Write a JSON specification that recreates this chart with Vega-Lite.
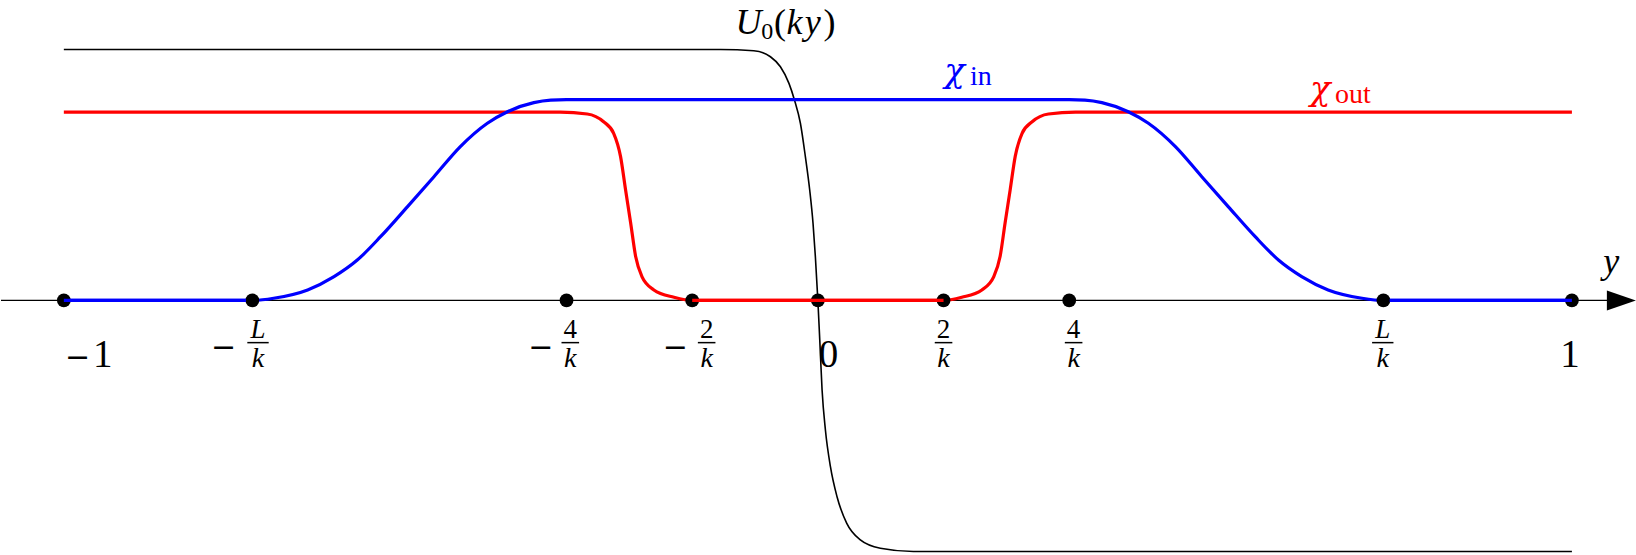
{
  "$schema": "https://vega.github.io/schema/vega-lite/v6.json",
  "width": 1636,
  "height": 555,
  "autosize": {"type": "fit", "contains": "padding"},
  "padding": 0,
  "background": "white",
  "config": {"view": {"stroke": null}},
  "datasets": {
    "curves": [
      {"s": "U0", "x": -12, "y": 1}, {"s": "U0", "x": -1.55, "y": 1.0}, {"s": "U0", "x": -1.02, "y": 0.995},
      {"s": "U0", "x": -0.755, "y": 0.971}, {"s": "U0", "x": -0.596, "y": 0.931}, {"s": "U0", "x": -0.46, "y": 0.865},
      {"s": "U0", "x": -0.374, "y": 0.8}, {"s": "U0", "x": -0.278, "y": 0.706}, {"s": "U0", "x": -0.199, "y": 0.573},
      {"s": "U0", "x": -0.13, "y": 0.44}, {"s": "U0", "x": -0.077, "y": 0.307}, {"s": "U0", "x": -0.04, "y": 0.175},
      {"s": "U0", "x": 0, "y": 0}, {"s": "U0", "x": 0.03, "y": -0.157}, {"s": "U0", "x": 0.067, "y": -0.357},
      {"s": "U0", "x": 0.12, "y": -0.516}, {"s": "U0", "x": 0.2, "y": -0.662}, {"s": "U0", "x": 0.305, "y": -0.782},
      {"s": "U0", "x": 0.46, "y": -0.888}, {"s": "U0", "x": 0.676, "y": -0.954}, {"s": "U0", "x": 0.994, "y": -0.987},
      {"s": "U0", "x": 1.52, "y": -1.0}, {"s": "U0", "x": 12, "y": -1.0},

      {"s": "in", "x": -12, "y": 0}, {"s": "in", "x": -9, "y": 0}, {"s": "in", "x": -8.66, "y": 0.009},
      {"s": "in", "x": -8.12, "y": 0.042}, {"s": "in", "x": -7.7, "y": 0.095}, {"s": "in", "x": -7.33, "y": 0.161},
      {"s": "in", "x": -6.96, "y": 0.254}, {"s": "in", "x": -6.53, "y": 0.374}, {"s": "in", "x": -6.11, "y": 0.493},
      {"s": "in", "x": -5.69, "y": 0.613}, {"s": "in", "x": -5.26, "y": 0.706}, {"s": "in", "x": -4.94, "y": 0.752},
      {"s": "in", "x": -4.52, "y": 0.788}, {"s": "in", "x": -4.25, "y": 0.798}, {"s": "in", "x": -4.0, "y": 0.8},
      {"s": "in", "x": 4.0, "y": 0.8}, {"s": "in", "x": 4.25, "y": 0.798}, {"s": "in", "x": 4.52, "y": 0.788},
      {"s": "in", "x": 4.94, "y": 0.752}, {"s": "in", "x": 5.26, "y": 0.706}, {"s": "in", "x": 5.69, "y": 0.613},
      {"s": "in", "x": 6.11, "y": 0.493}, {"s": "in", "x": 6.53, "y": 0.374}, {"s": "in", "x": 6.96, "y": 0.254},
      {"s": "in", "x": 7.33, "y": 0.161}, {"s": "in", "x": 7.7, "y": 0.095}, {"s": "in", "x": 8.12, "y": 0.042},
      {"s": "in", "x": 8.66, "y": 0.009}, {"s": "in", "x": 9, "y": 0}, {"s": "in", "x": 12, "y": 0},

      {"s": "out", "x": -12, "y": 0.75}, {"s": "out", "x": -4.1, "y": 0.75}, {"s": "out", "x": -3.67, "y": 0.743},
      {"s": "out", "x": -3.41, "y": 0.712}, {"s": "out", "x": -3.25, "y": 0.666}, {"s": "out", "x": -3.14, "y": 0.573},
      {"s": "out", "x": -3.06, "y": 0.44}, {"s": "out", "x": -2.98, "y": 0.31}, {"s": "out", "x": -2.9, "y": 0.175},
      {"s": "out", "x": -2.8, "y": 0.095}, {"s": "out", "x": -2.61, "y": 0.042}, {"s": "out", "x": -2.29, "y": 0.013},
      {"s": "out", "x": -1.98, "y": 0}, {"s": "out", "x": 1.98, "y": 0}, {"s": "out", "x": 2.29, "y": 0.013},
      {"s": "out", "x": 2.61, "y": 0.042}, {"s": "out", "x": 2.8, "y": 0.095}, {"s": "out", "x": 2.9, "y": 0.175},
      {"s": "out", "x": 2.98, "y": 0.31}, {"s": "out", "x": 3.06, "y": 0.44}, {"s": "out", "x": 3.14, "y": 0.573},
      {"s": "out", "x": 3.25, "y": 0.666}, {"s": "out", "x": 3.41, "y": 0.712}, {"s": "out", "x": 3.67, "y": 0.743},
      {"s": "out", "x": 4.1, "y": 0.75}, {"s": "out", "x": 12, "y": 0.75}
    ],
    "dots": [
      {"x": -12, "y": 0}, {"x": -9, "y": 0}, {"x": -4, "y": 0}, {"x": -2, "y": 0}, {"x": 0, "y": 0},
      {"x": 2, "y": 0}, {"x": 4, "y": 0}, {"x": 9, "y": 0}, {"x": 12, "y": 0}
    ],
    "flats": [
      {"s": "in", "x": -12, "x2": -9.1, "y": 0},
      {"s": "in", "x": 9.1, "x2": 12, "y": 0},
      {"s": "out", "x": -2, "x2": 2, "y": 0}
    ],
    "bignums": [
      {"x": -11.38, "y": -0.265, "t": "1"},
      {"x": 0.17, "y": -0.265, "t": "0"},
      {"x": 11.97, "y": -0.265, "t": "1"}
    ],
    "minus": [
      {"x": -11.78, "y": -0.267, "t": "−"},
      {"x": -9.46, "y": -0.225, "t": "−"},
      {"x": -4.41, "y": -0.225, "t": "−"},
      {"x": -2.27, "y": -0.225, "t": "−"}
    ],
    "numdig": [
      {"x": -3.94, "y": -0.149, "t": "4"},
      {"x": -1.77, "y": -0.149, "t": "2"},
      {"x": 2.0, "y": -0.149, "t": "2"},
      {"x": 4.07, "y": -0.149, "t": "4"}
    ],
    "numL": [
      {"x": -8.91, "y": -0.149, "t": "L"},
      {"x": 8.99, "y": -0.149, "t": "L"}
    ],
    "den": [
      {"x": -8.91, "y": -0.265, "t": "k"},
      {"x": -3.94, "y": -0.265, "t": "k"},
      {"x": -1.77, "y": -0.265, "t": "k"},
      {"x": 2.0, "y": -0.265, "t": "k"},
      {"x": 4.07, "y": -0.265, "t": "k"},
      {"x": 8.99, "y": -0.265, "t": "k"}
    ],
    "bars": [
      {"x": -9.08, "x2": -8.74, "y": -0.168},
      {"x": -4.08, "x2": -3.8, "y": -0.168},
      {"x": -1.91, "x2": -1.63, "y": -0.168},
      {"x": 1.86, "x2": 2.14, "y": -0.168},
      {"x": 3.93, "x2": 4.21, "y": -0.168},
      {"x": 8.82, "x2": 9.16, "y": -0.168}
    ],
    "italicBig": [
      {"x": -1.312, "y": 1.062, "t": "U"},
      {"x": -0.50, "y": 1.062, "t": "k"},
      {"x": -0.21, "y": 1.062, "t": "y"},
      {"x": 12.5, "y": 0.11, "t": "y"}
    ],
    "uprightBig": [
      {"x": -0.70, "y": 1.062, "t": "("},
      {"x": 0.09, "y": 1.062, "t": ")"}
    ],
    "sub0": [
      {"x": -0.9, "y": 1.04, "t": "0"}
    ],
    "chiIn": [
      {"x": 2.01, "y": 0.869, "t": "χ"}
    ],
    "chiOut": [
      {"x": 7.83, "y": 0.799, "t": "χ"}
    ],
    "inTxt": [
      {"x": 2.42, "y": 0.859, "t": "in"}
    ],
    "outTxt": [
      {"x": 8.23, "y": 0.787, "t": "out"}
    ]
  },
  "encoding": {
    "x": {"field": "x", "type": "quantitative", "scale": {"domain": [-13.0, 13.02], "nice": false, "zero": false}, "axis": null},
    "y": {"field": "y", "type": "quantitative", "scale": {"domain": [-1.014, 1.197], "nice": false, "zero": false}, "axis": null}
  },
  "layer": [
    {
      "data": {"values": [{"x": -13, "x2": 12.6, "y": 0}]},
      "mark": {"type": "rule", "color": "black", "strokeWidth": 1.3},
      "encoding": {"x2": {"field": "x2"}}
    },
    {
      "data": {"values": [{"x": 12.787, "y": 0}]},
      "mark": {"type": "point", "shape": "M -1 -0.69 L 1 0 L -1 0.69 Z", "size": 841, "filled": true, "color": "black", "opacity": 1, "strokeWidth": 0}
    },
    {
      "data": {"name": "curves"},
      "transform": [{"filter": "datum.s === 'U0'"}],
      "mark": {"type": "line", "color": "black", "strokeWidth": 1.6, "interpolate": "monotone"}
    },
    {
      "data": {"name": "curves"},
      "transform": [{"filter": "datum.s === 'out'"}],
      "mark": {"type": "line", "color": "#ff0000", "strokeWidth": 3.2, "interpolate": "monotone"}
    },
    {
      "data": {"name": "curves"},
      "transform": [{"filter": "datum.s === 'in'"}],
      "mark": {"type": "line", "color": "#0000ff", "strokeWidth": 3.2, "interpolate": "monotone"}
    },
    {
      "data": {"name": "dots"},
      "mark": {"type": "point", "shape": "circle", "size": 190, "filled": true, "color": "black", "opacity": 1, "strokeWidth": 0}
    },
    {
      "data": {"name": "flats"},
      "mark": {"type": "rule", "strokeWidth": 3.2},
      "encoding": {
        "x2": {"field": "x2"},
        "color": {"field": "s", "type": "nominal", "scale": {"domain": ["in", "out"], "range": ["#0000ff", "#ff0000"]}, "legend": null}
      }
    },
    {
      "data": {"name": "bars"},
      "mark": {"type": "rule", "color": "black", "strokeWidth": 1.5},
      "encoding": {"x2": {"field": "x2"}}
    },
    {
      "data": {"name": "bignums"},
      "mark": {"type": "text", "font": "Liberation Serif", "fontSize": 39, "align": "center", "baseline": "alphabetic", "color": "black"},
      "encoding": {"text": {"field": "t"}}
    },
    {
      "data": {"name": "minus"},
      "mark": {"type": "text", "font": "DejaVu Serif", "fontSize": 30, "align": "center", "baseline": "alphabetic", "color": "black"},
      "encoding": {"text": {"field": "t"}}
    },
    {
      "data": {"name": "numdig"},
      "mark": {"type": "text", "font": "Liberation Serif", "fontSize": 27, "align": "center", "baseline": "alphabetic", "color": "black"},
      "encoding": {"text": {"field": "t"}}
    },
    {
      "data": {"name": "numL"},
      "mark": {"type": "text", "font": "Liberation Serif", "fontSize": 27, "fontStyle": "italic", "align": "center", "baseline": "alphabetic", "color": "black"},
      "encoding": {"text": {"field": "t"}}
    },
    {
      "data": {"name": "den"},
      "mark": {"type": "text", "font": "Liberation Serif", "fontSize": 28, "fontStyle": "italic", "align": "center", "baseline": "alphabetic", "color": "black"},
      "encoding": {"text": {"field": "t"}}
    },
    {
      "data": {"name": "italicBig"},
      "mark": {"type": "text", "font": "Liberation Serif", "fontSize": 36, "fontStyle": "italic", "align": "left", "baseline": "alphabetic", "color": "black"},
      "encoding": {"text": {"field": "t"}}
    },
    {
      "data": {"name": "uprightBig"},
      "mark": {"type": "text", "font": "Liberation Serif", "fontSize": 36, "align": "left", "baseline": "alphabetic", "color": "black"},
      "encoding": {"text": {"field": "t"}}
    },
    {
      "data": {"name": "sub0"},
      "mark": {"type": "text", "font": "Liberation Serif", "fontSize": 24, "align": "left", "baseline": "alphabetic", "color": "black"},
      "encoding": {"text": {"field": "t"}}
    },
    {
      "data": {"name": "chiIn"},
      "mark": {"type": "text", "font": "DejaVu Serif", "fontSize": 34, "fontStyle": "italic", "align": "left", "baseline": "alphabetic", "color": "#0000ff"},
      "encoding": {"text": {"field": "t"}}
    },
    {
      "data": {"name": "inTxt"},
      "mark": {"type": "text", "font": "Liberation Serif", "fontSize": 28, "align": "left", "baseline": "alphabetic", "color": "#0000ff"},
      "encoding": {"text": {"field": "t"}}
    },
    {
      "data": {"name": "chiOut"},
      "mark": {"type": "text", "font": "DejaVu Serif", "fontSize": 34, "fontStyle": "italic", "align": "left", "baseline": "alphabetic", "color": "#ff0000"},
      "encoding": {"text": {"field": "t"}}
    },
    {
      "data": {"name": "outTxt"},
      "mark": {"type": "text", "font": "Liberation Serif", "fontSize": 28, "align": "left", "baseline": "alphabetic", "color": "#ff0000"},
      "encoding": {"text": {"field": "t"}}
    }
  ]
}
